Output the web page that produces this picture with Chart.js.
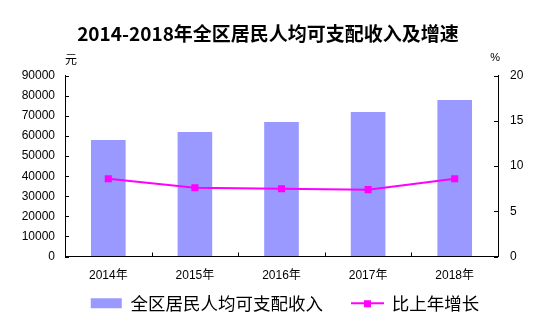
<!DOCTYPE html>
<html><head><meta charset="utf-8">
<script src="https://cdn.jsdelivr.net/npm/chart.js@4"></script>
<style>html,body{margin:0;padding:0;background:#fff}#wrap{width:536px;height:322px}</style>
</head><body><div id="wrap"><canvas id="c" width="536" height="322"></canvas></div>
<script>
const categories = ['2014年', '2015年', '2016年', '2017年', '2018年'];
const incomeValues = [58000, 62000, 67000, 72000, 78000];
const growthValues = [8.6, 7.6, 7.5, 7.4, 8.6];
const seriesNames = ['全区居民人均可支配收入', '比上年增长'];
const leftUnit = '元';
const rightUnit = '%';
const titleText = '2014-2018年全区居民人均可支配收入及增速';

const BAR_COLOR = '#9999FF';
const LINE_COLOR = '#FF00FF';
const TICK_FONT = {family: '"Liberation Sans", "Noto Sans CJK SC", sans-serif', size: 12};

// legend icon for the line series
const lineIcon = document.createElement('canvas');
lineIcon.width = 33; lineIcon.height = 10;
(function(){
  const g = lineIcon.getContext('2d');
  g.strokeStyle = LINE_COLOR; g.lineWidth = 2;
  g.beginPath(); g.moveTo(0, 5); g.lineTo(33, 5); g.stroke();
  g.fillStyle = LINE_COLOR; g.fillRect(13, 2, 7, 7);
})();

const extras = {
  id: 'extras',
  afterLayout(chart) {
    // centre the legend under the plot region rather than the full canvas
    if (chart.legend) { chart.legend.left = 34; }
  },
  beforeDraw(chart) {
    // let the category labels extend below the (thin) x-axis box
    chart.scales.x._computeLabelArea = () => undefined;
  },
  afterDraw(chart) {
    const {ctx, chartArea, scales} = chart;
    ctx.save();
    ctx.strokeStyle = '#000'; ctx.lineWidth = 1;
    const y = scales.y, y1 = scales.y1, x = scales.x;
    y.ticks.forEach((t, i) => {
      const py = Math.round(y.getPixelForTick(i)) + 0.5;
      ctx.beginPath(); ctx.moveTo(chartArea.left, py); ctx.lineTo(chartArea.left + 4, py); ctx.stroke();
    });
    y1.ticks.forEach((t, i) => {
      const py = Math.round(y1.getPixelForTick(i)) + 0.5;
      ctx.beginPath(); ctx.moveTo(chartArea.right, py); ctx.lineTo(chartArea.right - 4, py); ctx.stroke();
    });
    const n = categories.length;
    for (let i = 1; i < n; i++) {
      const px = Math.round((x.getPixelForValue(i - 1) + x.getPixelForValue(i)) / 2) + 0.5;
      ctx.beginPath(); ctx.moveTo(px, chartArea.bottom); ctx.lineTo(px, chartArea.bottom - 4); ctx.stroke();
    }
    ctx.fillStyle = '#000';
    ctx.textBaseline = 'middle';
    ctx.font = '12px "Noto Sans CJK SC", sans-serif';
    ctx.textAlign = 'left';
    ctx.fillText(leftUnit, chartArea.left, chartArea.top - 16);
    ctx.font = '11px "Liberation Sans", sans-serif';
    ctx.textAlign = 'right';
    ctx.fillText(rightUnit, chartArea.right + 2, chartArea.top - 18);
    ctx.restore();
  }
};

new Chart(document.getElementById('c'), {
  data: {
    labels: categories,
    datasets: [
      {
        type: 'line', label: seriesNames[1], data: growthValues, yAxisID: 'y1',
        borderColor: LINE_COLOR, backgroundColor: LINE_COLOR, borderWidth: 2,
        pointStyle: 'rect', pointRadius: 5, pointHoverRadius: 5,
        pointBackgroundColor: LINE_COLOR, pointBorderColor: LINE_COLOR, pointBorderWidth: 0,
        tension: 0, order: 0
      },
      {
        type: 'bar', label: seriesNames[0], data: incomeValues, yAxisID: 'y',
        backgroundColor: BAR_COLOR, borderWidth: 0,
        categoryPercentage: 1, barPercentage: 0.4, order: 1
      }
    ]
  },
  options: {
    responsive: false, animation: false, devicePixelRatio: 1,
    layout: {padding: 0},
    scales: {
      x: {
        grid: {display: true, drawOnChartArea: false, drawTicks: false},
        border: {color: '#000', width: 1},
        ticks: {color: '#000', font: TICK_FONT, padding: 12, maxRotation: 0},
        afterFit(s) { s.height = 9; }
      },
      y: {
        position: 'left', min: 0, max: 90000,
        grid: {drawOnChartArea: false, drawTicks: false},
        border: {color: '#000', width: 1},
        ticks: {stepSize: 10000, color: '#000', font: TICK_FONT, padding: 10, callback: v => String(v)},
        afterFit(s) { s.width = 65; }
      },
      y1: {
        position: 'right', min: 0, max: 20,
        grid: {drawOnChartArea: false, drawTicks: false},
        border: {color: '#000', width: 1},
        ticks: {stepSize: 5, color: '#000', font: TICK_FONT, padding: 12, callback: v => String(v)},
        afterFit(s) { s.width = 38; }
      }
    },
    plugins: {
      title: {
        display: true, text: titleText, color: '#000',
        font: {family: '"Noto Sans CJK SC", sans-serif', size: 19, weight: 'bold'},
        padding: {top: 22, bottom: 31}
      },
      legend: {
        position: 'bottom', fullSize: true, maxHeight: 57, reverse: true,
        labels: {
          color: '#000', font: {family: '"Noto Sans CJK SC", sans-serif', size: 17.5},
          usePointStyle: true, pointStyleWidth: 31, boxHeight: 10, padding: 29,
          generateLabels(chart) {
            return chart.data.datasets.map((ds, i) => ({
              text: ds.label, datasetIndex: i,
              fillStyle: ds.type === 'bar' ? BAR_COLOR : LINE_COLOR,
              strokeStyle: 'rgba(0,0,0,0)', lineWidth: 0,
              pointStyle: ds.type === 'bar' ? 'rect' : lineIcon,
              fontColor: '#000', hidden: false
            }));
          }
        }
      },
      tooltip: {enabled: false}
    }
  },
  plugins: [extras]
});
</script>
</body></html>
